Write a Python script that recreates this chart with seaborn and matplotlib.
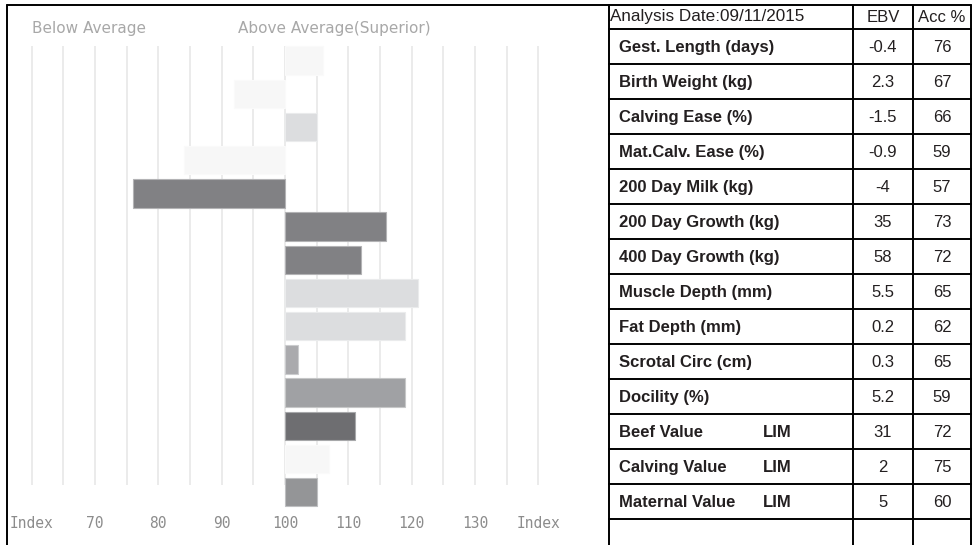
import pandas as pd
import seaborn as sns
import matplotlib.pyplot as plt
import matplotlib.colors as mcolors

# trait rows (table + bars)
traits = ['Gest. Length (days)', 'Birth Weight (kg)', 'Calving Ease (%)', 'Mat.Calv. Ease (%)',
          '200 Day Milk (kg)', '200 Day Growth (kg)', '400 Day Growth (kg)', 'Muscle Depth (mm)',
          'Fat Depth (mm)', 'Scrotal Circ (cm)', 'Docility (%)', 'Beef Value',
          'Calving Value', 'Maternal Value']
breed = ['', '', '', '', '', '', '', '', '', '', '', 'LIM', 'LIM', 'LIM']
ebv = ['-0.4', '2.3', '-1.5', '-0.9', '-4', '35', '58', '5.5', '0.2', '0.3', '5.2', '31', '2', '5']
acc = ['76', '67', '66', '59', '57', '73', '72', '65', '62', '65', '59', '72', '75', '60']

# index value of each bar (100 = breed average)
index_values = [106, 92, 105, 84, 76, 116, 112, 121, 119, 102, 119, 111, 107, 105]
bar_colors = ['#f7f7f7', '#f7f7f7', '#dcdddf', '#f7f7f7', '#808184', '#808184', '#808184',
              '#dcdddf', '#dcdddf', '#a9aaad', '#a0a1a4', '#6d6e71', '#f7f7f7', '#939598']

tick_vals = [60, 70, 80, 90, 100, 110, 120, 130, 140]
tick_text = ['Index', '70', '80', '90', '100', '110', '120', '130', 'Index']
grid_vals = list(range(60, 141, 5))

df = pd.DataFrame({'trait': traits, 'dev': [v - 100 for v in index_values]})

sns.set_style('white')
plt.rcParams['font.family'] = ['DejaVu Sans']

W, H = 979, 545
fig = plt.figure(figsize=(W / 100, H / 100), dpi=100)

# bar chart area in pixels
x0, x1, ytop, ybot = 7, 609, 30, 512
ax = fig.add_axes([x0 / W, (H - ybot) / H, (x1 - x0) / W, (ybot - ytop) / H])

sns.barplot(data=df, y='trait', x='dev', hue='trait', palette=dict(zip(traits, bar_colors)),
            legend=False, width=0.86, orient='h', ax=ax, zorder=3)

for p, c in zip(ax.patches, bar_colors):
    rgb = mcolors.to_rgb(c)
    edge = tuple(0.6 * v + 0.4 for v in rgb)
    p.set_edgecolor(edge)
    p.set_linewidth(0.8)

px_per_unit = 6.333
ax.set_xlim((x0 - 285) / px_per_unit, (x1 - 285) / px_per_unit)
pitch = 33.2
c0 = 60.6
ax.set_ylim((ybot - c0) / pitch, (ytop - c0) / pitch)

ax.vlines([g - 100 for g in grid_vals], -0.43, 12.78, color='#e6e6e6', lw=1.1, zorder=0)

ax.set_xticks([t - 100 for t in tick_vals])
ax.set_xticklabels(tick_text, family='DejaVu Sans Mono', fontsize=10.5, color='#8c8c8c')
ax.tick_params(axis='x', length=0, pad=3)
ax.set_yticks([])
ax.set_xlabel('')
ax.set_ylabel('')
for s in ax.spines.values():
    s.set_visible(False)

# overlay in pixel coordinates: borders, headers and table
ov = fig.add_axes([0, 0, 1, 1])
ov.set_xlim(0, W)
ov.set_ylim(H, 0)
ov.axis('off')
ov.patch.set_alpha(0)

ov.text(32, 28, 'Below Average', fontsize=11, color='#a8a8a8', va='center')
ov.text(238, 28, 'Above Average(Superior)', fontsize=11, color='#a8a8a8', va='center')

lw = 1.4
ov.plot([7, 971], [5, 5], color='black', lw=lw)
for xv in [7, 609, 853, 913, 971]:
    ov.plot([xv, xv], [5, H], color='black', lw=lw)
row_h = 35
hdr = 29
for i in range(len(traits) + 1):
    y = hdr + i * row_h
    ov.plot([609, 971], [y, y], color='black', lw=lw)

txt = '#231f20'
tf = 'Liberation Sans'
fs = 12
ov.text(610, 17, 'Analysis Date:09/11/2015', family=tf, fontsize=12.3, color=txt, va='center')
ov.text(883, 17, 'EBV', family=tf, fontsize=12, color=txt, va='center', ha='center')
ov.text(942, 17, 'Acc %', family=tf, fontsize=12, color=txt, va='center', ha='center')

for i, t in enumerate(traits):
    yc = hdr + i * row_h + row_h / 2 + 1
    ov.text(619, yc, t, family=tf, fontsize=fs, weight='bold', color=txt, va='center')
    if breed[i]:
        ov.text(763, yc, breed[i], family=tf, fontsize=fs, weight='bold', color=txt, va='center')
    ov.text(883, yc, ebv[i], family=tf, fontsize=fs, color=txt, va='center', ha='center')
    ov.text(942, yc, acc[i], family=tf, fontsize=fs, color=txt, va='center', ha='center')

fig.savefig('out.png', dpi=100)
